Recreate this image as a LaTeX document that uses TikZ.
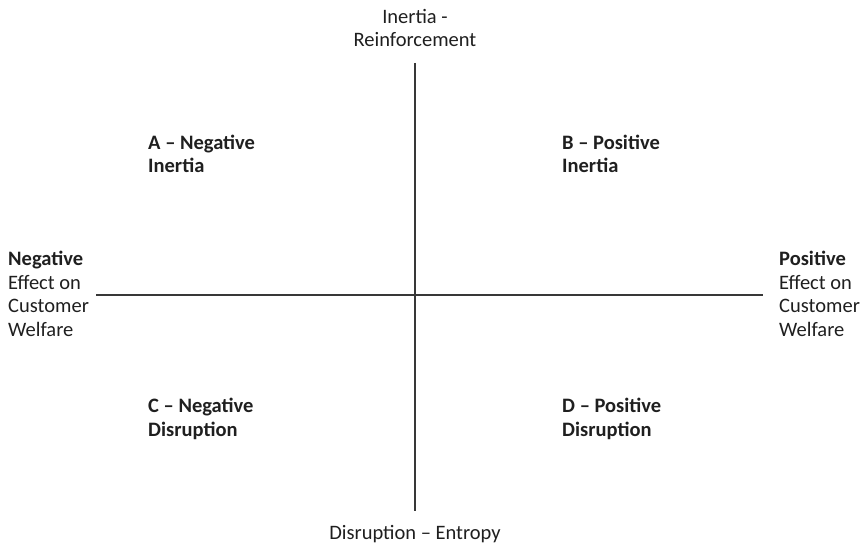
\documentclass[tikz,border=0pt]{standalone}
\usepackage{fontspec}
\setmainfont{Carlito}
\begin{document}
\begin{tikzpicture}[x=1pt,y=-1pt,
  lbl/.style={inner sep=0pt,text=black!88,font=\fontsize{20.5}{23.5}\selectfont},
  qlbl/.style={lbl,align=left,anchor=base west,font=\fontsize{20.5}{23.5}\selectfont\bfseries},
  axis/.style={line width=1.4pt,black!78}]
\useasboundingbox (0,0) rectangle (865,548);
\coordinate (vt) at (415,63);
\coordinate (vb) at (415,511);
\coordinate (hl) at (96,295);
\coordinate (hr) at (763,295);
\draw[axis] (vt) -- (vb);
\draw[axis] (hl) -- (hr);
\node[lbl,align=center,anchor=base] (top) at (415,47) {Inertia -\\Reinforcement};
\node[lbl,anchor=base] (bot) at (415,539) {Disruption – Entropy};
\node[lbl,align=left,anchor=base west] (left) at (8,336) {\textbf{Negative}\\Effect on\\Customer\\Welfare};
\node[lbl,align=left,anchor=base west] (right) at (779,336) {\textbf{Positive}\\Effect on\\Customer\\Welfare};
\node[qlbl] (qa) at (148,173) {A – Negative\\Inertia};
\node[qlbl] (qb) at (562,173) {B – Positive\\Inertia};
\node[qlbl] (qc) at (148,436) {C – Negative\\Disruption};
\node[qlbl] (qd) at (562,436) {D – Positive\\Disruption};
\end{tikzpicture}
\end{document}
